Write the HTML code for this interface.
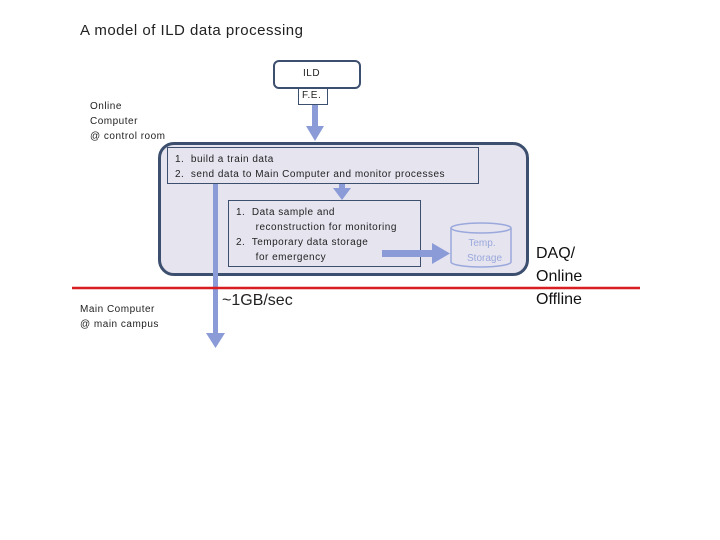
<!DOCTYPE html>
<html><head><style>
body{margin:0;width:720px;height:540px;background:#fff;position:relative;overflow:hidden;font-family:"Liberation Sans","Noto Sans CJK JP",sans-serif}
.a{position:absolute;white-space:nowrap}
.s{font-size:10px;color:#222;letter-spacing:0.5px}
</style></head><body>
<div class="a" style="left:80px;top:22px;font-size:15px;color:#222;letter-spacing:0.5px">A model of ILD data processing</div>
<div class="a s" style="left:90px;top:99px;line-height:15px">Online<br>Computer<br>@ control room</div>
<div class="a s" style="left:80px;top:302px;line-height:15px">Main Computer<br>@ main campus</div>
<div class="a" style="left:158px;top:142px;width:365px;height:128px;background:#e6e4ef;border:3px solid #3d4f6e;border-radius:16px"></div>
<div class="a" style="left:273px;top:60px;width:84px;height:25px;border:2px solid #3d4f6e;border-radius:6px;background:#fff"></div>
<div class="a s" style="left:303px;top:68px">ILD</div>
<div class="a" style="left:298px;top:88px;width:28px;height:15px;border:1px solid #3d4f6e;background:#fff"></div>
<div class="a s" style="left:302px;top:90px">F.E.</div>
<div class="a" style="left:167px;top:147px;width:310px;height:35px;border:1px solid #3d4f6e"></div>
<div class="a s" style="left:175px;top:152px;line-height:15px">1.&nbsp; build a train data<br>2.&nbsp; send data to Main Computer and monitor processes</div>
<div class="a" style="left:228px;top:200px;width:191px;height:65px;border:1px solid #3d4f6e"></div>
<div class="a s" style="left:236px;top:205px;line-height:15px">1.&nbsp; Data sample and<br>&nbsp;&nbsp;&nbsp;&nbsp;&nbsp; reconstruction for monitoring<br>2.&nbsp; Temporary data storage<br>&nbsp;&nbsp;&nbsp;&nbsp;&nbsp; for emergency</div>
<svg class="a" style="left:0;top:0" width="720" height="540">
<g fill="#8a9bd8" stroke="none">
<rect x="312" y="105" width="6" height="22"/><polygon points="306,126 324,126 315,141"/>
<rect x="339" y="184" width="6" height="6"/><polygon points="333,188 351,188 342,200"/>
<rect x="213" y="184" width="5" height="150"/><polygon points="206,333 225,333 215.5,348"/>
<rect x="382" y="250" width="52" height="7"/><polygon points="432,243 450,253.5 432,264"/>
</g>
<g fill="#e6e4ef" stroke="#9aa8dc" stroke-width="1.5">
<path d="M451,228 L451,262 A30,5 0 0 0 511,262 L511,228"/>
<ellipse cx="481" cy="228" rx="30" ry="5"/>
</g>
<line x1="72" y1="288" x2="640" y2="288" stroke="#d81e1e" stroke-width="2.5"/>
</svg>
<div class="a" style="left:467px;top:236px;font-size:10px;color:#9aa8dc;line-height:15px;text-align:center;width:30px">Temp.<br>Storage</div>
<div class="a" style="left:222px;top:292px;font-size:16px;color:#222">~1GB/sec</div>
<div class="a" style="left:536px;top:242px;font-size:16px;color:#111;line-height:23px">DAQ/<br>Online<br>Offline</div>
</body></html>
